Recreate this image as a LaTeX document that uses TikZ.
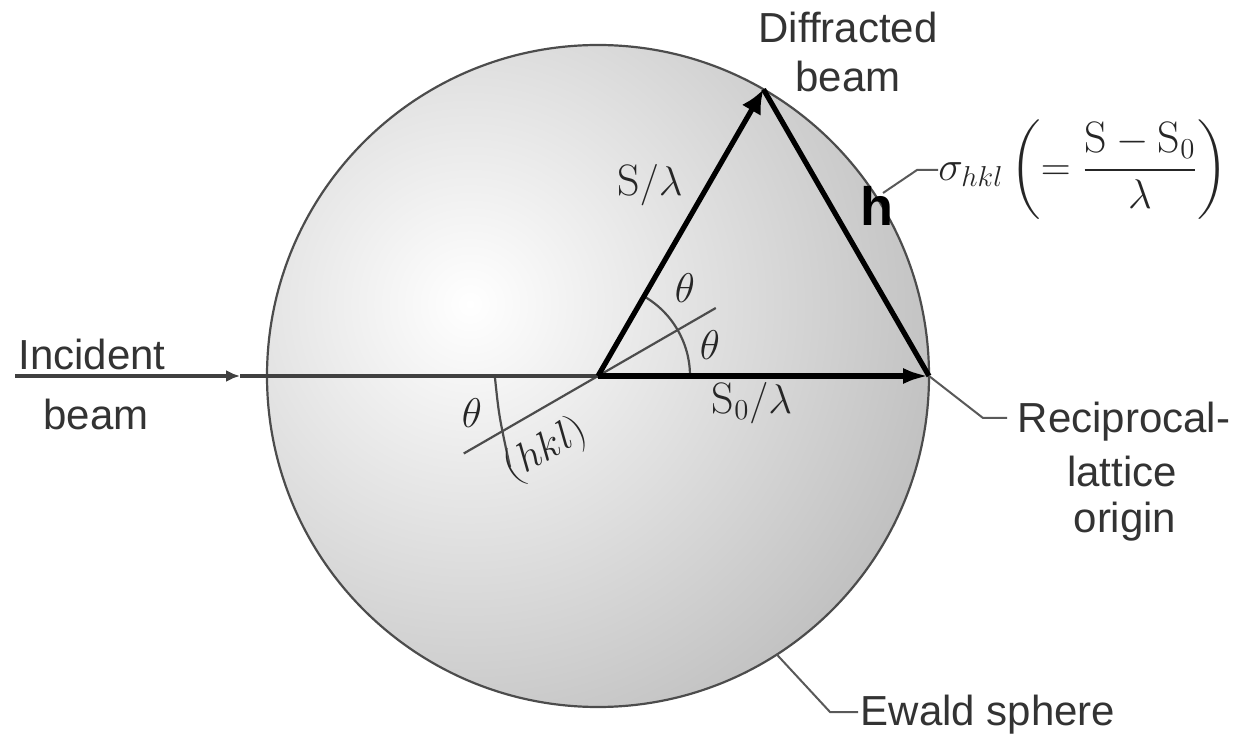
\documentclass[tikz,border=0pt]{standalone}
\usepackage{amsmath}
\usepackage{fontspec}
\setsansfont{Liberation Sans}
\usetikzlibrary{arrows.meta}
\begin{document}
\begin{tikzpicture}[x=0.5pt,y=0.5pt,
  lbl/.style={font=\fontsize{21}{25}\selectfont\sffamily, text=black!80, inner sep=0pt},
  mth/.style={font=\fontsize{22}{26}\selectfont, text=black!85, inner sep=0pt},
  vecline/.style={line width=2.6pt, black},
  thinline/.style={line width=1.1pt, black!70},
  lead/.style={line width=1pt, black!65},
  rim/.style={line width=1.1pt, black!70},
]
\useasboundingbox (0,0) rectangle (1237,734);
% geometry
\coordinate (C) at (598,358);
\coordinate (O) at (929,358);
\path (C) ++(60:165.5pt) coordinate (P);
\coordinate (in) at (15,358);
\coordinate (ia) at (240,358);
\path (C) ++(210:77.5pt) coordinate (pl1);
\path (C) ++(30:68pt) coordinate (pl2);
\coordinate (a1) at (495,356);
\coordinate (a2) at (510,267);
% sphere
\fill[gray!45] (C) circle[radius=165.5pt];
\begin{scope}
  \clip (C) circle[radius=165.5pt];
  \shade[inner color=white, outer color=gray!50] (470,430) circle[radius=245pt];
\end{scope}
\draw[rim] (C) circle[radius=165.5pt];
% plane and angle arcs
\draw[thinline] (pl1) -- (pl2);
\draw[thinline] (C) ++(0:46pt) arc[start angle=0, end angle=60, radius=46pt];
\draw[thinline] (a1) .. controls (499,318) .. (a2);
% beams
\draw[line width=2.2pt, black!75, -{Latex[length=7pt,width=6pt]}] (in) -- (ia);
\draw[line width=2.2pt, black!75] (ia) -- (C);
\draw[vecline, -{Latex[length=13pt,width=8pt]}] (C) -- (O);
\draw[vecline] (O) -- (P);
\draw[vecline, -{Latex[length=12pt,width=11pt]}] (C) -- (P);
% math labels
\node[mth] (sl) at (650,549) {$\mathrm{S}/\lambda$};
\node[mth] (s0l) at (752,331) {$\mathrm{S}_0/\lambda$};
\node[mth] (t1) at (685,446) {$\theta$};
\node[mth] (t2) at (710,389) {$\theta$};
\node[mth] (t3) at (472,321) {$\theta$};
\node[mth, rotate=30, font=\fontsize{20}{24}\selectfont] (hkl) at (546,284) {$(hkl)$};
\node[font=\fontsize{27}{30}\selectfont\sffamily\bfseries, inner sep=0pt] (h) at (877,528) {h};
\node[mth, anchor=west] (sig) at (938,564) {$\sigma_{hkl}\left(=\dfrac{\mathrm{S}-\mathrm{S}_0}{\lambda}\right)$};
% text labels
\node[lbl, anchor=base] (diff1) at (848,691) {Diffracted};
\node[lbl, anchor=base] (diff2) at (848,642) {beam};
\node[lbl, anchor=base] (inc1) at (92,364) {Incident};
\node[lbl, anchor=base] (inc2) at (96,304) {beam};
\node[lbl, anchor=base] (rec1) at (1124,301) {Reciprocal-};
\node[lbl, anchor=base] (rec2) at (1122,247) {lattice};
\node[lbl, anchor=base] (rec3) at (1125,201) {origin};
\node[lbl, anchor=base] (ew) at (988,9) {Ewald sphere};
% leaders
\coordinate (sg0) at (883,541);
\coordinate (sg1) at (917,564);
\draw[lead] (sg0) -- (sg1) -- (sig.west);
\coordinate (ro1) at (983,316);
\coordinate (ro2) at (1007,316);
\draw[lead] (O) -- (ro1) -- (ro2);
\path (C) ++(-57.3:165.5pt) coordinate (ew0);
\coordinate (ew1) at (830,22);
\coordinate (ew2) at (858,22);
\draw[lead] (ew0) -- (ew1) -- (ew2);
\end{tikzpicture}
\end{document}
